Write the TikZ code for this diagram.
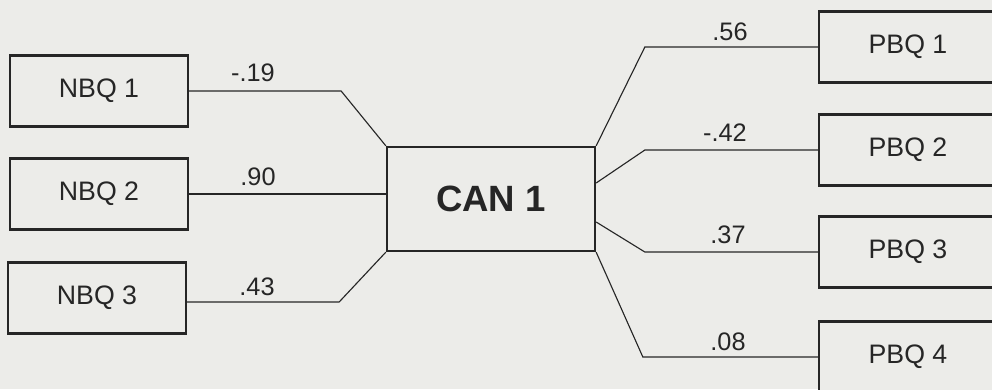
\documentclass[tikz,border=0pt]{standalone}
\usepackage{fontspec}
\setmainfont{Liberation Sans}
\usetikzlibrary{positioning, calc}
\definecolor{paper}{RGB}{236,236,233}
\definecolor{ink}{RGB}{38,38,38}

\begin{document}
\begin{tikzpicture}[
    x=0.025cm, y=-0.025cm,            % <── one unit is one pixel of the scan
    box_node/.style={rectangle, draw=ink, line width=1.6pt, fill=paper,
        text=ink, minimum width=4.45cm, minimum height=1.77cm,
        font=\fontsize{19}{21}\selectfont},
    can_node/.style={box_node, minimum width=5.2cm, minimum height=2.6cm,
        font=\fontsize{26}{28}\selectfont\bfseries},
    wt_label/.style={text=ink, inner sep=0pt, font=\fontsize{18}{20}\selectfont},
    link/.style={draw=ink, line width=0.8pt}
    ]
    \useasboundingbox (0,0) rectangle (992,389);
    \fill[paper] (0,0) rectangle (992,389);

    % Nodes
    \node[box_node] (nbq1) at (99,91) {NBQ 1};
    \node[box_node] (nbq2) at (99,194) {NBQ 2};
    \node[box_node] (nbq3) at (97,298) {NBQ 3};
    \node[can_node] (can) at (491,199) {CAN 1};
    \node[box_node] (pbq1) at (908,47) {PBQ 1};
    \node[box_node] (pbq2) at (908,150) {PBQ 2};
    \node[box_node] (pbq3) at (908,252) {PBQ 3};
    \node[box_node] (pbq4) at (908,357) {PBQ 4};

    % Lines
    \draw[link] (nbq1.east) -- ++(152,0) -- (can.north west);
    \draw[link] (nbq2.east) -- (can.west |- nbq2.east);
    \draw[link] ($(nbq3.east)+(0,4)$) -- ++(152,0) -- (can.south west);
    \draw[link] (can.north east) -- ($(pbq1.west)+(-173,0)$) -- (pbq1.west);
    \draw[link] ($(can.east)+(0,-16)$) -- ($(pbq2.west)+(-173,0)$) -- (pbq2.west);
    \draw[link] ($(can.east)+(0,23)$) -- ($(pbq3.west)+(-173,0)$) -- (pbq3.west);
    \draw[link] (can.south east) -- ($(pbq4.west)+(-175,0)$) -- (pbq4.west);

    % Weights
    \node[wt_label] (w1) at (253,73) {-.19};
    \node[wt_label] (w2) at (258,177) {.90};
    \node[wt_label] (w3) at (257,287) {.43};
    \node[wt_label] (w4) at (730,32) {.56};
    \node[wt_label] (w5) at (725,133) {-.42};
    \node[wt_label] (w6) at (728,235) {.37};
    \node[wt_label] (w7) at (728,342) {.08};
\end{tikzpicture}
\end{document}
